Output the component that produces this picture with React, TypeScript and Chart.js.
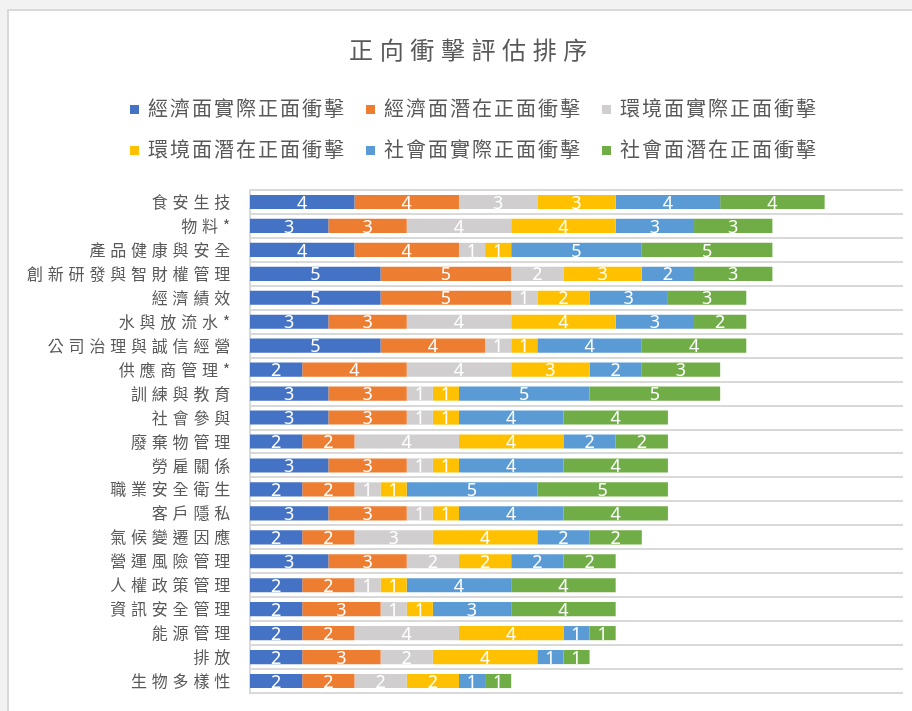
import React, { useEffect, useRef } from 'react';
import { Chart, registerables } from 'chart.js';

Chart.register(...registerables);

const chartTitle = '正向衝擊評估排序';

const categories = [
  '食安生技',
  '物料*',
  '產品健康與安全',
  '創新研發與智財權管理',
  '經濟績效',
  '水與放流水*',
  '公司治理與誠信經營',
  '供應商管理*',
  '訓練與教育',
  '社會參與',
  '廢棄物管理',
  '勞雇關係',
  '職業安全衛生',
  '客戶隱私',
  '氣候變遷因應',
  '營運風險管理',
  '人權政策管理',
  '資訊安全管理',
  '能源管理',
  '排放',
  '生物多樣性',
];

const seriesLabels = [
  '經濟面實際正面衝擊',
  '經濟面潛在正面衝擊',
  '環境面實際正面衝擊',
  '環境面潛在正面衝擊',
  '社會面實際正面衝擊',
  '社會面潛在正面衝擊',
];

const seriesColors = ['#4472C4', '#ED7D31', '#D0CECE', '#FFC000', '#5B9BD5', '#70AD47'];

const econActual = [4, 3, 4, 5, 5, 3, 5, 2, 3, 3, 2, 3, 2, 3, 2, 3, 2, 2, 2, 2, 2];
const econPotential = [4, 3, 4, 5, 5, 3, 4, 4, 3, 3, 2, 3, 2, 3, 2, 3, 2, 3, 2, 3, 2];
const envActual = [3, 4, 1, 2, 1, 4, 1, 4, 1, 1, 4, 1, 1, 1, 3, 2, 1, 1, 4, 2, 2];
const envPotential = [3, 4, 1, 3, 2, 4, 1, 3, 1, 1, 4, 1, 1, 1, 4, 2, 1, 1, 4, 4, 2];
const socActual = [4, 3, 5, 2, 3, 3, 4, 2, 5, 4, 2, 4, 5, 4, 2, 2, 4, 3, 1, 1, 1];
const socPotential = [4, 3, 5, 3, 3, 2, 4, 3, 5, 4, 2, 4, 5, 4, 2, 2, 4, 4, 1, 1, 1];

const seriesValues = [econActual, econPotential, envActual, envPotential, socActual, socPotential];

const FONT_CJK = '"Noto Sans CJK TC", "Noto Sans CJK SC", sans-serif';
const TEXT_COLOR = '#595959';

const textPlugin = {
  id: 'textPlugin',
  afterLayout(chart: any) {
    const t = chart.titleBlock;
    if (t) {
      t.left += 14;
      t.right += 14;
    }
  },
  beforeDraw(chart: any) {
    // spacing for the title, drawn in the first layer pass
    chart.ctx.letterSpacing = '6.6px';
  },
  beforeDatasetsDraw(chart: any) {
    chart.ctx.letterSpacing = '0px';
  },
  afterDatasetsDraw(chart: any) {
    const ctx = chart.ctx;
    ctx.save();
    ctx.letterSpacing = '0px';
    ctx.font = '18px "Noto Sans", sans-serif';
    ctx.fillStyle = '#ffffff';
    ctx.textAlign = 'center';
    ctx.textBaseline = 'middle';
    chart.data.datasets.forEach((ds: any, i: number) => {
      const meta = chart.getDatasetMeta(i);
      meta.data.forEach((bar: any, j: number) => {
        const v = ds.data[j];
        if (!v) return;
        const p = bar.getProps(['x', 'y', 'base'], true);
        ctx.fillText(String(v), (p.x + p.base) / 2, p.y + 1.5);
      });
    });
    ctx.restore();
    // spacing for the category tick labels, drawn after datasets (ticks.z = 1)
    ctx.letterSpacing = '4.8px';
  },
  afterDraw(chart: any) {
    const ctx = chart.ctx;
    ctx.save();
    ctx.letterSpacing = '2px';
    ctx.font = `20px ${FONT_CJK}`;
    ctx.textBaseline = 'middle';
    ctx.textAlign = 'left';
    const ds = chart.data.datasets;
    const rows = [[0, 1, 2], [3, 4, 5]];
    const rowY = [108, 149];
    const box = 9;
    const boxGap = 9;
    const itemGap = 20;
    const center = 474;
    rows.forEach((row, r) => {
      const widths = row.map((i) => box + boxGap + ctx.measureText(ds[i].label).width);
      const total = widths.reduce((a, b) => a + b, 0) + itemGap * (row.length - 1);
      let x = center - total / 2;
      row.forEach((i, k) => {
        ctx.fillStyle = ds[i].backgroundColor;
        ctx.fillRect(Math.round(x), Math.round(rowY[r] - box / 2 + 1), box, box);
        ctx.fillStyle = TEXT_COLOR;
        ctx.fillText(ds[i].label, x + box + boxGap, rowY[r]);
        x += widths[k] + itemGap;
      });
    });
    ctx.restore();
  },
};

export default function App() {
  const canvasRef = useRef<HTMLCanvasElement | null>(null);

  useEffect(() => {
    const canvas = canvasRef.current;
    if (!canvas) return;
    const chart = new Chart(canvas, {
      type: 'bar',
      data: {
        labels: categories,
        datasets: seriesLabels.map((label, i) => ({
          label,
          data: seriesValues[i],
          backgroundColor: seriesColors[i],
          borderWidth: 0,
          categoryPercentage: 1,
          barPercentage: 0.59,
        })),
      },
      options: {
        indexAxis: 'y',
        responsive: false,
        animation: false,
        layout: { padding: { left: 12, right: 9, top: 0, bottom: 18 } },
        plugins: {
          legend: { display: false },
          tooltip: { enabled: false },
          title: {
            display: true,
            text: chartTitle,
            color: TEXT_COLOR,
            font: { family: FONT_CJK, size: 24, weight: 'normal', lineHeight: 1.2 },
            padding: { top: 35.6, bottom: 125.6 },
          },
        },
        scales: {
          x: {
            display: false,
            stacked: true,
            min: 0,
            max: 25,
          },
          y: {
            stacked: true,
            afterFit(scale: any) {
              scale.width = 238;
              scale.paddingTop = 0;
              scale.paddingBottom = 0;
            },
            grid: {
              display: true,
              color: '#d9d9d9',
              lineWidth: 2,
              drawTicks: false,
              offset: true,
            },
            border: { display: true, color: '#d9d9d9', width: 2 },
            ticks: {
              autoSkip: false,
              padding: 15,
              z: 1,
              color: TEXT_COLOR,
              font: { family: FONT_CJK, size: 16, weight: 'normal' },
            },
          },
        },
      },
      plugins: [textPlugin],
    } as any);
    return () => chart.destroy();
  }, []);

  return (
    <div
      style={{
        position: 'fixed',
        left: 0,
        top: 0,
        width: 912,
        height: 711,
        background: '#f2f2f2',
        overflow: 'hidden',
      }}
    >
      <div
        style={{
          position: 'absolute',
          left: 7,
          top: 9,
          width: 1000,
          height: 800,
          background: '#ffffff',
          border: '2px solid #d9d9d9',
        }}
      />
      <canvas
        ref={canvasRef}
        width={912}
        height={711}
        style={{ position: 'absolute', left: 0, top: 0 }}
      />
    </div>
  );
}
